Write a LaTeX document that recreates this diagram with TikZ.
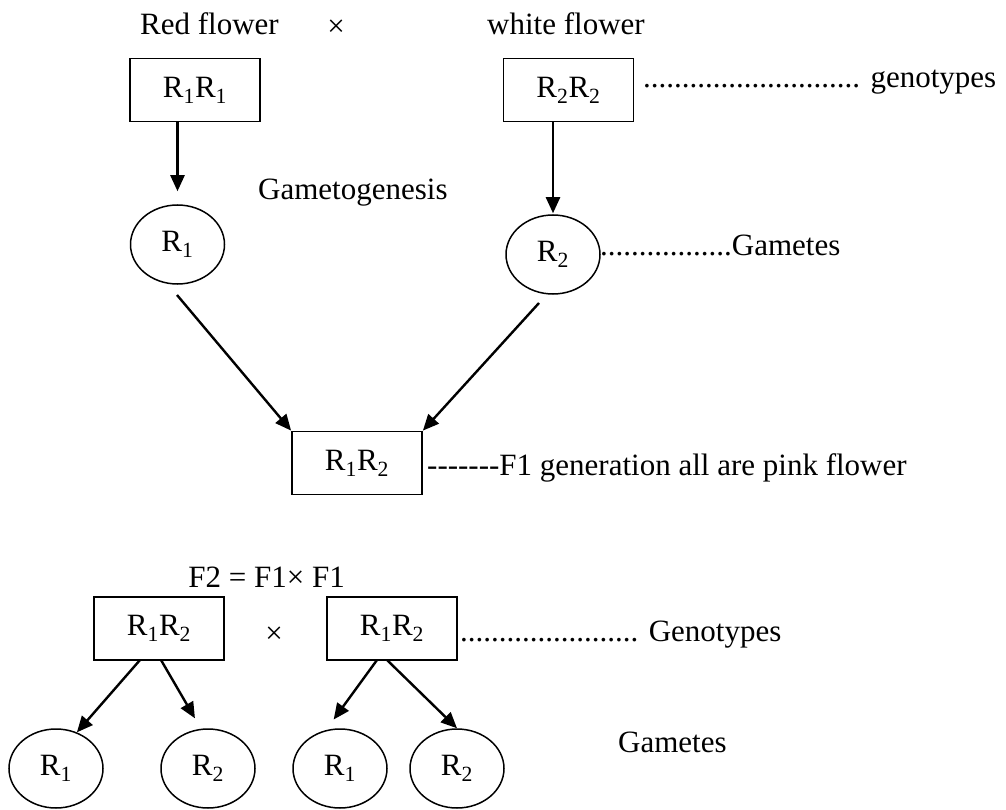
\documentclass[tikz,border=0pt]{standalone}
\usepackage{fontspec}
\setmainfont{Liberation Serif}
\usetikzlibrary{shapes.geometric,arrows.meta}
\newcommand\gR[1]{R\textsubscript{#1}}
\begin{document}
\begin{tikzpicture}[x=1pt,y=-1pt,
  every node/.style={font=\fontsize{31}{36}\selectfont, inner sep=0pt},
  gbox/.style={draw, line width=1.8pt, minimum width=130pt, minimum height=63pt},
  gam/.style={draw, ellipse, line width=1.5pt, minimum width=94pt, minimum height=79pt},
  lbl/.style={anchor=base west},
  arr/.style={line width=2.4pt, -{Triangle[length=16pt,width=14pt]}}]
\useasboundingbox (0,0) rectangle (1006,810);

% top parents
\node[lbl] (red) at (140,35) {Red flower};
\node (x1) at (336,28) {×};
\node[lbl] (white) at (487,35) {white flower};
\node[gbox] (p1) at (195,90) {\gR{1}\gR{1}};
\node[gbox] (p2) at (568.5,90) {\gR{2}\gR{2}};
\node[lbl] (geno1) at (643,88) {............................ genotypes};

% gametes
\node[lbl] (gtg) at (258,200) {Gametogenesis};
\node[gam] (g1) at (177.5,244.5) {\gR{1}};
\node[gam] (g2) at (553,254.5) {\gR{2}};
\node[lbl] (gam1) at (600,255) {.................Gametes};
\draw[arr, shorten >=13pt] (p1.south -| g1.north) -- (g1.north);
\draw[arr, shorten >=1pt] (p2.south -| g2.north) -- (g2.north);

% F1
\node[gbox] (f1) at (357,463) {\gR{1}\gR{2}};
\node[lbl] (f1lbl) at (427,475) {-{}-{}-{}-{}-{}-{}-F1 generation all are pink flower};
\coordinate (g1out) at (177,295);
\coordinate (g2out) at (539,303);
\draw[arr] (g1out) -- (f1.north west);
\draw[arr] (g2out) -- (f1.north east);

% F2
\node[anchor=base east] (f2) at (345,587) {F2 = F1× F1};
\node[gbox] (b1) at (159,628.5) {\gR{1}\gR{2}};
\node (x2) at (274,635) {×};
\node[gbox] (b2) at (392,628.5) {\gR{1}\gR{2}};
\node[lbl] (geno2) at (460,641) {....................... Genotypes};

\node[gam] (c1) at (56,768.5) {\gR{1}};
\node[gam] (c2) at (208,768.5) {\gR{2}};
\node[gam] (c3) at (340,768.5) {\gR{1}};
\node[gam] (c4) at (457,768.5) {\gR{2}};
\node[lbl] (gam2) at (618,752) {Gametes};

\coordinate (b1a) at (140,660);
\coordinate (b1b) at (161,660);
\coordinate (b2a) at (377,660);
\coordinate (b2b) at (387,660);
\draw[arr] (b1a) -- (c1.60);
\draw[arr, shorten >=12pt] (b1b) -- (c2.100);
\draw[arr, shorten >=13pt] (b2a) -- (c3.110);
\draw[arr] (b2b) -- (c4.north);
\end{tikzpicture}
\end{document}
